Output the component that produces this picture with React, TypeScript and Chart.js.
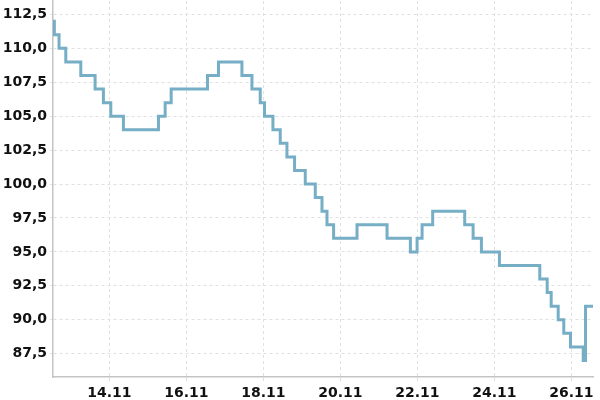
import React, { useEffect, useRef } from "react";
import { Chart, registerables } from "chart.js";

Chart.register(...registerables);

// x in days of November, y values
const dayPositions = [
  12.535, 12.57, 12.692, 12.867, 13.257, 13.628, 13.844, 14.036, 14.364, 15.274,
  15.448, 15.604, 16.547, 16.833, 17.442, 17.702, 17.917, 18.029, 18.247, 18.437,
  18.611, 18.809, 19.087, 19.347, 19.521, 19.651, 19.823, 20.431, 21.211, 21.817,
  21.991, 22.121, 22.396, 23.228, 23.446, 23.662, 24.13, 25.178, 25.37, 25.474,
  25.656, 25.801, 25.976, 26.306, 26.366, 26.56,
];
const values = [
  112, 111, 110, 109, 108, 107, 106, 105, 104, 105,
  106, 107, 108, 109, 108, 107, 106, 105, 104, 103,
  102, 101, 100, 99, 98, 97, 96, 97, 96, 95,
  96, 97, 98, 97, 96, 95, 94, 93, 92, 91,
  90, 89, 88, 87, 91, 91,
];
const xTickDays = [14, 16, 18, 20, 22, 24, 26];
const yTickValues = [87.5, 90, 92.5, 95, 97.5, 100, 102.5, 105, 107.5, 110, 112.5];

export default function App() {
  const ref = useRef<HTMLCanvasElement>(null);
  useEffect(() => {
    if (!ref.current) return;
    const font = { family: "'DejaVu Sans', sans-serif", size: 14, weight: "bold" as const };
    const chart = new Chart(ref.current, {
      type: "line",
      data: {
        datasets: [
          {
            data: dayPositions.map((d, i) => ({ x: d, y: values[i] })),
            borderColor: "rgb(118,174,198)",
            borderWidth: 3,
            pointRadius: 0,
            stepped: true,
            fill: false,
          },
        ],
      },
      options: {
        animation: false,
        responsive: false,
        layout: { padding: { top: 1, right: 7, left: 2, bottom: 0 } },
        plugins: { legend: { display: false }, tooltip: { enabled: false } },
        scales: {
          x: {
            type: "linear",
            min: 12.535,
            max: 26.56,
            afterBuildTicks: (s: any) => {
              s.ticks = xTickDays.map((v) => ({ value: v }));
            },
            afterFit: (s: any) => {
              s.height = 23;
              s.paddingLeft = 0;
              s.paddingRight = 0;
            },
            ticks: {
              font,
              color: "#111",
              padding: 4,
              maxRotation: 0,
              autoSkip: false,
              callback: (v: any) => `${v}.11`,
            },
            grid: { color: "#e0e0e0", tickLength: 4, drawTicks: true },
            border: { color: "#c4c4c4", width: 1.5, dash: [3, 3] },
          },
          y: {
            type: "linear",
            min: 85.78,
            max: 113.49,
            afterBuildTicks: (s: any) => {
              s.ticks = yTickValues.map((v) => ({ value: v }));
            },
            afterFit: (s: any) => {
              s.width = 51;
              s.paddingTop = 0;
              s.paddingBottom = 0;
            },
            ticks: {
              font,
              color: "#111",
              padding: 3,
              autoSkip: false,
              callback: (v: any) => Number(v).toFixed(1).replace(".", ","),
            },
            grid: { color: "#e0e0e0", tickLength: 3, drawTicks: true },
            border: { color: "#c4c4c4", width: 1.5, dash: [3, 3] },
          },
        },
      },
    });
    return () => chart.destroy();
  }, []);
  return (
    <div style={{ position: "fixed", left: 0, top: 0, width: 600, height: 400, background: "#fff" }}>
      <canvas ref={ref} width={600} height={400} style={{ display: "block" }} />
    </div>
  );
}
